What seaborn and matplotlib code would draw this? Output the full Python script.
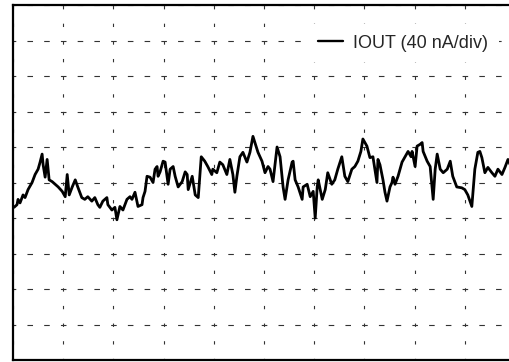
import matplotlib
matplotlib.use("Agg")
import matplotlib.pyplot as plt
import seaborn as sns
import numpy as np
import pandas as pd

# Time axis in divisions, current in nA (40 nA per division)
t1 = [0.02, 0.08, 0.10, 0.14, 0.20, 0.24, 0.30, 0.38, 0.44, 0.50,
      0.54, 0.58, 0.60, 0.64, 0.68, 0.72, 0.78, 0.84, 0.90, 0.98,
      1.04, 1.08, 1.12, 1.18, 1.24, 1.29, 1.37, 1.43, 1.49, 1.57,
      1.63, 1.69, 1.73, 1.79, 1.87, 1.89, 1.97, 2.03, 2.07, 2.13,
      2.19, 2.27, 2.33]
i1 = [-28, -25, -19, -23, -14, -17, -8, 0, 9, 15,
      23, 32, 20, 6, 26, 3, 1, -2, -5, -10,
      -16, 9, -14, -5, 3, -5, -17, -19, -16, -21,
      -17, -25, -28, -21, -17, -25, -31, -28, -42, -27,
      -31, -19, -16]

t2 = [2.37, 2.43, 2.49, 2.57, 2.59, 2.63, 2.67, 2.73, 2.79, 2.83,
      2.87, 2.89, 2.93, 2.99, 3.03, 3.07, 3.09, 3.13, 3.19, 3.23,
      3.29, 3.37, 3.43, 3.47, 3.49, 3.57, 3.63, 3.69, 3.75, 3.82,
      3.88, 3.96, 3.98, 4.06, 4.12, 4.18, 4.26, 4.32, 4.38, 4.42,
      4.46, 4.52, 4.58, 4.66, 4.72, 4.78]
i2 = [-19, -11, -27, -25, -17, -10, 7, 6, 0, 15,
      18, 7, 12, 24, 23, 6, -2, 15, 18, 7,
      -5, 1, 12, 9, -8, 7, -14, -17, 29, 24,
      18, 9, 15, 11, 23, 20, 9, 26, 9, -11,
      7, 29, 34, 23, 34, 52]

t3 = [4.88, 4.96, 5.02, 5.08, 5.12, 5.18, 5.26, 5.32, 5.38, 5.42,
      5.48, 5.56, 5.58, 5.62, 5.68, 5.76, 5.78, 5.86, 5.92, 5.98,
      6.02, 6.06, 6.08, 6.16, 6.22, 6.27, 6.35, 6.41, 6.47, 6.55,
      6.61, 6.67, 6.75, 6.81, 6.87, 6.93, 6.97, 7.05, 7.11, 7.17,
      7.25]
i3 = [34, 24, 11, 18, 15, 1, 40, 29, -5, -19,
      3, 23, 24, 3, -5, -19, -5, -2, -16, -10,
      -40, -5, 3, -19, -8, 11, -2, 3, 15, 29,
      7, 1, 15, 18, 24, 35, 49, 41, 28, 29,
      0]

t4 = [7.27, 7.31, 7.37, 7.41, 7.45, 7.51, 7.55, 7.57, 7.61, 7.67,
      7.75, 7.81, 7.87, 7.93, 7.95, 8.01, 8.05, 8.11, 8.15, 8.17,
      8.25, 8.31, 8.37, 8.41, 8.45, 8.51, 8.57, 8.65, 8.71, 8.76,
      8.84, 8.94, 9.00, 9.06, 9.14, 9.20, 9.26, 9.30, 9.34, 9.40,
      9.46, 9.54, 9.60, 9.66, 9.74, 9.80, 9.86, 9.94, 10.0]
i4 = [26, 20, 3, -11, -21, -5, 0, 6, -2, 7,
      23, 29, 35, 29, 35, 18, 41, 43, 45, 35,
      24, 18, -19, 15, 32, 15, 11, 15, 24, 7,
      -5, -6, -8, -14, -27, 15, 34, 35, 28, 11,
      17, 11, 7, 15, 9, 17, 26, 15, 17]

label = "IOUT (40 nA/div)"
x_divs = list(range(0, 11))
y_divs = list(range(-200, 201, 40))

df = pd.DataFrame({"t": t1 + t2 + t3 + t4, "iout": i1 + i2 + i3 + i4})

sns.set_style("white")
plt.rcParams["font.family"] = ["Liberation Sans", "DejaVu Sans"]
plt.rcParams["lines.scale_dashes"] = False

W, H = 510, 362
fig = plt.figure(figsize=(W / 100, H / 100), dpi=100)
ax = fig.add_axes([13 / W, 2 / H, 502 / W, 355 / H])

sns.lineplot(data=df, x="t", y="iout", ax=ax, color="black",
             linewidth=2.0, label=label, sort=False)

ax.set_xlim(0, 10)
ax.set_ylim(-200, 200)
ax.set_xticks(x_divs)
ax.set_yticks(y_divs)
ax.set_xticklabels([])
ax.set_yticklabels([])
ax.tick_params(length=0)
ax.set_xlabel("")
ax.set_ylabel("")

# dashed scope graticule
ax.xaxis.grid(True, color="#333333", linewidth=0.8,
              linestyle=(1.2, (2.4, 10.3)))
ax.yaxis.grid(True, color="#333333", linewidth=0.8,
              linestyle=(2.0, (4.0, 8.05)))
ax.set_axisbelow(True)

for side in ["left", "top", "bottom", "right"]:
    ax.spines[side].set_visible(True)
    ax.spines[side].set_color("black")
    ax.spines[side].set_linewidth(1.6)

leg = ax.legend(loc="center left", bbox_to_anchor=(307 / W, 1 - 43 / H),
                bbox_transform=fig.transFigure, borderaxespad=0,
                frameon=True, framealpha=1, facecolor="white",
                edgecolor="none", fancybox=False, borderpad=0.6,
                handlelength=1.4, handletextpad=0.55, fontsize=13)
for line in leg.get_lines():
    line.set_linewidth(1.7)

fig.savefig("out.png", dpi=100)
